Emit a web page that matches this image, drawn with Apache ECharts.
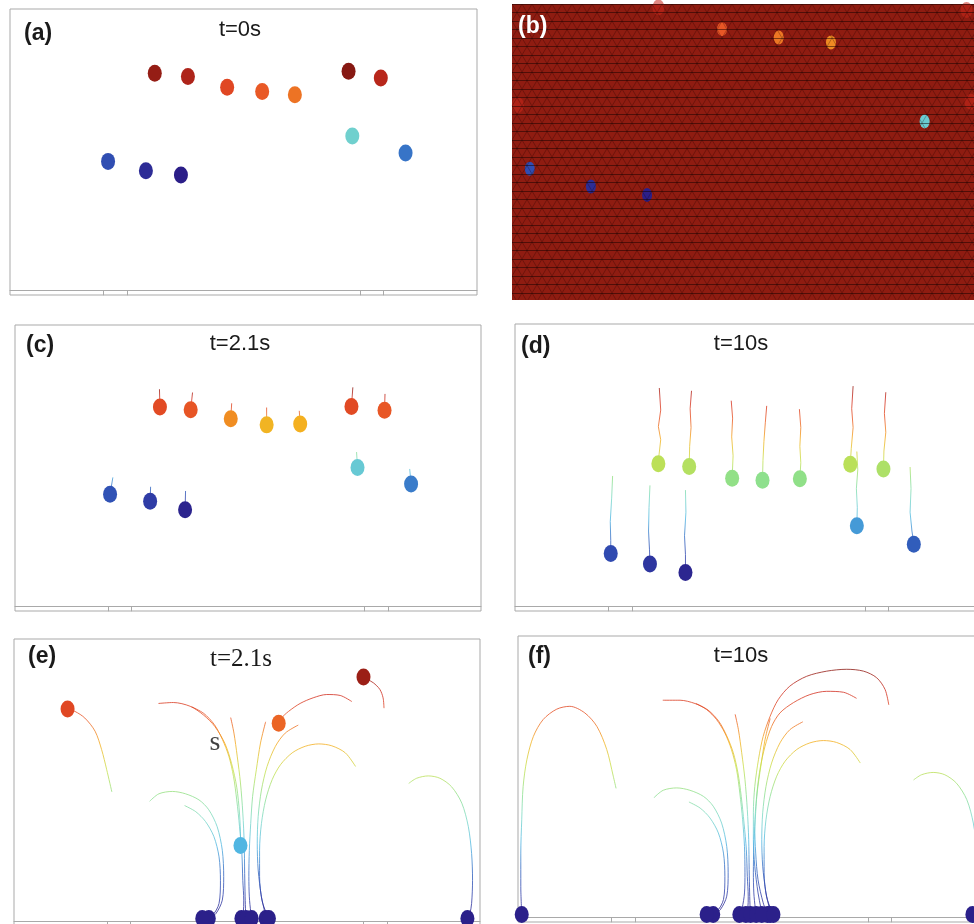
<!DOCTYPE html>
<html>
<head>
<meta charset="utf-8">
<title>Particle trajectories above the plate</title>
<script src="https://cdn.jsdelivr.net/npm/echarts@6/dist/echarts.min.js"></script>
<style>
  html, body { margin: 0; padding: 0; background: #fff; }
  #chart { width: 974px; height: 924px; }
</style>
</head>
<body>
<div id="chart"></div>
<script>
// every panel uses the same domain: x 0..10, y 0..6 (y = 0 is the plate surface)
const plateTicks = [2, 2.5, 7.5, 8];

// (a) t=0s, starting positions of the 12 particles
const startPos = [
  [3.10, 4.63], [3.81, 4.56], [4.65, 4.33], [5.40, 4.24], [6.10, 4.17], [7.25, 4.67],
  [7.94, 4.53], [7.33, 3.29], [8.47, 2.93], [2.10, 2.75], [2.91, 2.55], [3.66, 2.46]
];

// (b) mesh view
const ballsB = [[4.26, 5.49], [5.41, 5.32], [6.47, 5.22], [8.37, 3.62], [0.36, 2.66], [1.60, 2.30], [2.74, 2.13]];
const ballsBFaint = [[2.97, 5.93], [0.12, 3.95], [9.30, 4.02], [9.22, 5.88]];

// (c) t=2.1s
const ballsC = [
  [3.11, 4.25], [3.77, 4.19], [4.63, 4.00], [5.40, 3.87], [6.12, 3.89], [7.22, 4.26],
  [7.93, 4.18], [7.35, 2.96], [8.50, 2.61], [2.04, 2.39], [2.90, 2.24], [3.65, 2.06]
];

// (d) t=10s
const ballsD = [
  [3.07, 3.03], [3.73, 2.97], [4.65, 2.72], [5.30, 2.68], [6.10, 2.71], [7.18, 3.02],
  [7.89, 2.92], [7.32, 1.71], [8.54, 1.32], [2.05, 1.12], [2.89, 0.90], [3.65, 0.72]
];
const tailsD = [
  [[3.09, 4.64], [3.12, 4.17], [3.07, 3.82], [3.12, 3.54], [3.08, 3.18], [3.07, 3.03]],
  [[3.78, 4.58], [3.75, 4.20], [3.77, 3.80], [3.74, 3.40], [3.73, 2.97]],
  [[4.63, 4.37], [4.66, 4.00], [4.64, 3.60], [4.67, 3.20], [4.65, 2.72]],
  [[5.39, 4.26], [5.36, 3.90], [5.33, 3.50], [5.31, 3.10], [5.30, 2.68]],
  [[6.09, 4.19], [6.12, 3.80], [6.10, 3.40], [6.12, 3.05], [6.10, 2.71]],
  [[7.24, 4.68], [7.21, 4.20], [7.24, 3.80], [7.20, 3.35], [7.18, 3.02]],
  [[7.94, 4.55], [7.91, 4.10], [7.94, 3.70], [7.90, 3.30], [7.89, 2.92]],
  [[7.32, 3.29], [7.34, 2.90], [7.31, 2.50], [7.33, 2.10], [7.32, 1.71]],
  [[8.46, 2.96], [8.48, 2.50], [8.46, 2.00], [8.50, 1.60], [8.54, 1.32]],
  [[2.09, 2.77], [2.07, 2.30], [2.04, 1.80], [2.05, 1.40], [2.05, 1.12]],
  [[2.89, 2.57], [2.87, 2.10], [2.86, 1.60], [2.88, 1.20], [2.89, 0.90]],
  [[3.65, 2.47], [3.66, 2.00], [3.63, 1.50], [3.65, 1.10], [3.65, 0.72]]
];

// (f) t=10s, full trajectories (last point = resting particle)
const pathsF = [
  [[3.10, 4.63], [3.47, 4.63], [3.79, 4.56], [4.04, 4.43], [4.25, 4.22], [4.43, 3.93], [4.57, 3.58], [4.68, 3.15],
   [4.75, 2.65], [4.81, 2.08], [4.85, 1.51], [4.86, 0.95], [4.85, 0.52], [4.80, 0.20], [4.74, 0.06]],
  [[3.81, 4.56], [4.07, 4.42], [4.30, 4.18], [4.47, 3.87], [4.61, 3.51], [4.71, 3.08], [4.78, 2.58], [4.84, 2.01],
   [4.89, 1.44], [4.91, 0.87], [4.93, 0.45], [4.92, 0.18], [4.88, 0.06]],
  [[4.65, 4.33], [4.72, 4.00], [4.79, 3.51], [4.86, 2.94], [4.91, 2.30], [4.94, 1.66], [4.95, 1.02], [4.96, 0.52],
   [4.97, 0.20], [4.98, 0.06]],
  [[5.40, 4.24], [5.29, 3.79], [5.20, 3.22], [5.12, 2.65], [5.08, 2.08], [5.05, 1.51], [5.04, 0.95], [5.05, 0.52],
   [5.08, 0.20], [5.10, 0.06]],
  [[6.10, 4.17], [5.82, 4.00], [5.61, 3.72], [5.43, 3.29], [5.31, 2.79], [5.24, 2.23], [5.22, 1.66], [5.24, 1.09],
   [5.31, 0.52], [5.38, 0.20], [5.40, 0.06]],
  [[7.25, 4.67], [6.97, 4.80], [6.61, 4.82], [6.25, 4.75], [5.90, 4.58], [5.61, 4.36], [5.43, 4.07], [5.29, 3.65],
   [5.18, 3.15], [5.11, 2.58], [5.07, 1.94], [5.09, 1.37], [5.14, 0.80], [5.25, 0.31], [5.34, 0.06]],
  [[7.94, 4.53], [7.86, 4.86], [7.68, 5.11], [7.40, 5.25], [7.04, 5.29], [6.61, 5.25], [6.18, 5.14], [5.82, 4.93],
   [5.57, 4.64], [5.40, 4.29], [5.25, 3.86], [5.15, 3.37], [5.07, 2.79], [5.04, 2.23], [5.04, 1.66], [5.07, 1.09],
   [5.14, 0.52], [5.20, 0.20], [5.22, 0.06]],
  [[7.33, 3.29], [7.11, 3.58], [6.82, 3.73], [6.54, 3.77], [6.25, 3.72], [5.97, 3.58], [5.72, 3.33], [5.54, 3.01],
   [5.40, 2.58], [5.31, 2.08], [5.27, 1.51], [5.27, 0.95], [5.32, 0.45], [5.42, 0.16], [5.47, 0.06]],
  [[8.47, 2.93], [8.64, 3.04], [8.89, 3.09], [9.14, 3.04], [9.39, 2.86], [9.61, 2.51], [9.75, 2.01], [9.82, 1.44],
   [9.84, 0.87], [9.82, 0.38], [9.78, 0.15], [9.73, 0.06]],
  [[2.10, 2.75], [2.04, 3.01], [1.90, 3.58], [1.69, 4.07], [1.43, 4.36], [1.11, 4.50], [0.83, 4.44], [0.54, 4.22],
   [0.33, 3.86], [0.19, 3.36], [0.11, 2.79], [0.08, 2.08], [0.06, 1.37], [0.06, 0.66], [0.08, 0.06]],
  [[2.91, 2.55], [3.11, 2.71], [3.40, 2.76], [3.68, 2.71], [3.97, 2.58], [4.18, 2.37], [4.36, 2.01], [4.47, 1.51],
   [4.50, 0.95], [4.47, 0.45], [4.33, 0.16], [4.18, 0.06]],
  [[3.66, 2.46], [3.90, 2.33], [4.11, 2.12], [4.29, 1.80], [4.40, 1.37], [4.43, 0.87], [4.40, 0.38], [4.25, 0.12],
   [4.04, 0.06]]
];

// (e) t=2.1s, the four particles still in flight (the rest already match (f))
const pathsEFlying = {
  0: [[3.10, 4.63], [3.42, 4.65], [3.78, 4.57], [4.06, 4.39], [4.31, 4.14], [4.53, 3.77], [4.67, 3.35], [4.78, 2.85],
      [4.84, 2.28], [4.86, 1.78], [4.86, 1.61]],
  5: [[7.25, 4.67], [7.00, 4.80], [6.71, 4.82], [6.42, 4.75], [6.14, 4.63], [5.89, 4.46], [5.74, 4.32], [5.68, 4.21]],
  6: [[7.94, 4.53], [7.92, 4.75], [7.85, 4.93], [7.71, 5.07], [7.57, 5.15], [7.50, 5.19]],
  9: [[2.10, 2.75], [1.99, 3.22], [1.88, 3.65], [1.74, 4.04], [1.52, 4.32], [1.31, 4.46], [1.15, 4.51]]
};
const sLabelPos = [4.31, 3.79];

const palette = ['#2b1c86', '#2f40aa', '#3268c2', '#50b6e2', '#7ad8c8', '#8fe08a',
                 '#c8e04a', '#f4b020', '#ea5a26', '#d22e20', '#841812'];
const sans = '"Liberation Sans", Arial, Helvetica, sans-serif';
const serif = '"Liberation Serif", "Times New Roman", serif';

// panel frames in px: a, b, c, d, e, f
const frames = [
  { left: 10, top: 9, width: 467, height: 286 },
  { left: 512, top: 4, width: 493, height: 296 },
  { left: 15, top: 325, width: 466, height: 286 },
  { left: 515, top: 324, width: 467, height: 287 },
  { left: 14, top: 639, width: 466, height: 287 },
  { left: 518, top: 636, width: 467, height: 286 }
];

const grid = frames.map((f, i) => ({
  left: f.left, top: f.top, width: f.width, height: f.height,
  show: true, borderColor: '#a9a9a9', borderWidth: i === 1 ? 0 : 1,
  backgroundColor: i === 1 ? '#8f1c11' : 'transparent',
  containLabel: false, outerBoundsMode: 'none'
}));
const xAxis = frames.map((f, i) => ({
  gridIndex: i, type: 'value', min: 0, max: 10, show: i !== 1,
  axisLine: { onZero: true, lineStyle: { color: '#a9a9a9', width: 1 } },
  axisTick: { show: true, customValues: plateTicks, length: 5, lineStyle: { color: '#a9a9a9' } },
  axisLabel: { show: false },
  splitLine: { show: false }
}));
const yAxis = frames.map((f, i) => ({
  gridIndex: i, type: 'value', min: i === 1 ? 0 : -0.1, max: 6, show: false
}));

const series = [];
const visualMap = [];

function panel(gi, balls, paths, range, size, smooth) {
  const ids = [];
  paths.forEach(p => {
    ids.push(series.length);
    series.push({
      type: 'line', xAxisIndex: gi, yAxisIndex: gi, data: p,
      symbol: 'none', smooth: smooth, silent: true, z: 2,
      lineStyle: { width: 1, opacity: 0.8 }
    });
  });
  ids.push(series.length);
  series.push({
    type: 'scatter', xAxisIndex: gi, yAxisIndex: gi, data: balls,
    symbol: 'circle', symbolSize: size, silent: true, z: 5,
    itemStyle: { opacity: 1 }
  });
  visualMap.push({
    type: 'continuous', show: false, dimension: 1, seriesIndex: ids,
    min: range[0], max: range[1], inRange: { color: palette }
  });
}

panel(0, startPos, [], [2.45, 4.68], [14, 17], false);
panel(1, ballsB, [], [2.1, 6.3], [10, 14], false);
panel(2, ballsC, startPos.map((s, i) => [s, ballsC[i]]), [2.0, 4.7], [14, 17], false);
panel(3, ballsD, tailsD, [0.6, 4.8], [14, 17], false);
const pathsE = pathsF.map((p, i) => pathsEFlying[i] || p);
const ballsE = pathsE.map(p => p[p.length - 1]);
const ballsF = pathsF.map(p => p[p.length - 1]);
panel(4, ballsE, pathsE, [0, 5.35], [14, 17], 0.3);
panel(5, ballsF, pathsF, [0, 5.35], [14, 17], 0.3);

// dark-red particles barely visible against the red mesh in (b)
series.push({
  type: 'scatter', xAxisIndex: 1, yAxisIndex: 1, data: ballsBFaint,
  symbolSize: [12, 16], silent: true, z: 4,
  itemStyle: { color: '#c8281c', opacity: 0.55 }
});
// the "s" mark in (e)
series.push({
  type: 'scatter', xAxisIndex: 4, yAxisIndex: 4, data: [sLabelPos],
  symbolSize: 1, silent: true, z: 6, itemStyle: { color: 'rgba(0,0,0,0)' },
  label: { show: true, position: 'inside', formatter: 's', fontFamily: serif, fontSize: 28, color: '#111' }
});

function tag(text, x, y, color) {
  return { text, left: x, top: y, padding: 0, z: 20,
    textStyle: { fontFamily: sans, fontWeight: 'bold', fontSize: 23, color: color || '#1a1a1a' } };
}
function stamp(text, cx, y, family, size) {
  return { text, left: cx, top: y, padding: 0, textAlign: 'center', z: 20,
    textStyle: { fontFamily: family, fontWeight: 'normal', fontSize: size, color: '#1a1a1a' } };
}
const titles = [
  tag('(a)', 24, 22), stamp('t=0s', 240, 19, sans, 22),
  tag('(b)', 518, 15, '#ffffff'),
  tag('(c)', 26, 334), stamp('t=2.1s', 240, 333, sans, 22),
  tag('(d)', 521, 335), stamp('t=10s', 741, 333, sans, 22),
  tag('(e)', 28, 645), stamp('t=2.1s', 241, 647, serif, 25),
  tag('(f)', 528, 645), stamp('t=10s', 741, 645, sans, 22)
];

// triangular mesh texture laid over panel (b)
function meshTexture() {
  const c = document.createElement('canvas');
  c.width = 10; c.height = 17;
  const ctx = c.getContext('2d');
  ctx.strokeStyle = 'rgba(25,0,0,0.35)';
  ctx.lineWidth = 0.8;
  ctx.beginPath();
  ctx.moveTo(0, 0); ctx.lineTo(10, 17);
  ctx.moveTo(10, 0); ctx.lineTo(0, 17);
  ctx.stroke();
  ctx.strokeStyle = 'rgba(15,0,0,0.5)';
  ctx.lineWidth = 1;
  ctx.beginPath();
  ctx.moveTo(0, 0.5); ctx.lineTo(10, 0.5);
  ctx.moveTo(0, 8.5); ctx.lineTo(10, 8.5);
  ctx.stroke();
  return c;
}

const chart = echarts.init(document.getElementById('chart'));
chart.setOption({
  animation: false,
  backgroundColor: '#ffffff',
  title: titles,
  grid, xAxis, yAxis, visualMap, series,
  graphic: [{
    type: 'rect', left: 512, top: 4, z: 10, silent: true,
    shape: { width: 462, height: 296 },
    style: { fill: { image: meshTexture(), repeat: 'repeat' } }
  }]
});
</script>
</body>
</html>
